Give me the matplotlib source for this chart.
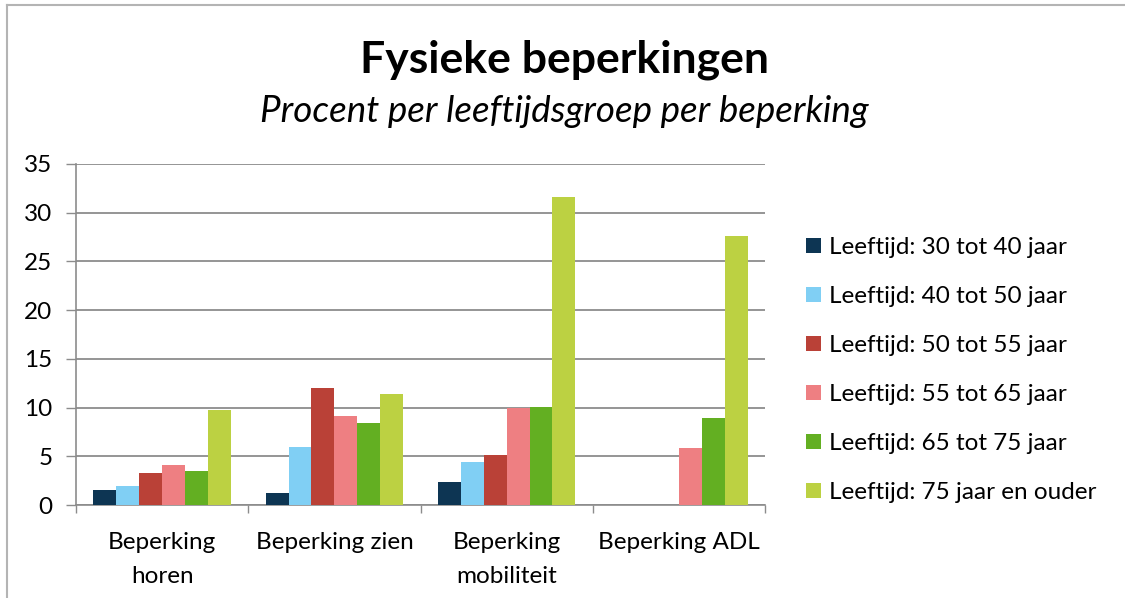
import numpy as np
import matplotlib.pyplot as plt
from matplotlib.lines import Line2D

plt.rcParams['font.family'] = ['Lato', 'DejaVu Sans']

categories = ['Beperking\nhoren', 'Beperking zien', 'Beperking\nmobiliteit', 'Beperking ADL']
series = ['Leeftijd: 30 tot 40 jaar', 'Leeftijd: 40 tot 50 jaar', 'Leeftijd: 50 tot 55 jaar',
          'Leeftijd: 55 tot 65 jaar', 'Leeftijd: 65 tot 75 jaar', 'Leeftijd: 75 jaar en ouder']
age_30_40 = [1.55, 1.25, 2.35, 0]
age_40_50 = [2.0, 5.95, 4.4, 0]
age_50_55 = [3.3, 12.05, 5.15, 0]
age_55_65 = [4.1, 9.15, 10.0, 5.8]
age_65_75 = [3.5, 8.4, 10.1, 8.9]
age_75_plus = [9.75, 11.4, 31.6, 27.6]
values = [age_30_40, age_40_50, age_50_55, age_55_65, age_65_75, age_75_plus]
colors = ['#0d3553', '#80cff4', '#ba4137', '#ee7f82', '#63af22', '#bcd142']

fig = plt.figure(figsize=(11.25, 5.98), dpi=100)
ax = fig.add_axes([0.0676, 0.1555, 0.6124, 0.5703])

x = np.arange(len(categories))
w = 0.133
for i, (vals, c, lab) in enumerate(zip(values, colors, series)):
    ax.bar(x + (i - 2.5) * w, vals, w, color=c, label=lab, zorder=3)

ax.set_xlim(-0.5, 3.5)
ax.set_ylim(0, 35)
ax.set_yticks(range(0, 36, 5))
ax.yaxis.grid(True, color='#8c8c8c', linewidth=1.3, zorder=0)
ax.tick_params(axis='y', length=7, color='#8c8c8c', width=1, pad=10, labelsize=17.5)

ax.set_xticks(np.arange(-0.5, 4, 1))
ax.set_xticklabels([])
ax.set_xticks(x, minor=True)
ax.set_xticklabels(categories, minor=True, fontsize=17.5, linespacing=1.75, va='top')
ax.tick_params(axis='x', which='major', length=6, color='#8c8c8c', width=1)
ax.tick_params(axis='x', which='minor', length=0, pad=19.5)

for s in ['top', 'right']:
    ax.spines[s].set_visible(False)
for s in ['left', 'bottom']:
    ax.spines[s].set_color('#8c8c8c')
    ax.spines[s].set_linewidth(1.2)

fig.text(0.502, 0.9, 'Fysieke beperkingen', ha='center', va='center',
         fontsize=32, fontweight='bold')
fig.text(0.502, 0.813, 'Procent per leeftijdsgroep per beperking', ha='center', va='center',
         fontsize=26.5, style='italic')

leg = fig.legend(loc='center left', bbox_to_anchor=(0.697, 0.381), frameon=False,
                 fontsize=17.5, handlelength=0.6, handleheight=0.6, handletextpad=0.35,
                 labelspacing=1.15)

# chart border (top and left only visible)
fig.add_artist(Line2D([0.006, 1.0], [0.992, 0.992], color='#b4b4b4', linewidth=1.5))
fig.add_artist(Line2D([0.006, 0.006], [0.0, 0.992], color='#b4b4b4', linewidth=1.5))

fig.savefig('out.png', dpi=100)
